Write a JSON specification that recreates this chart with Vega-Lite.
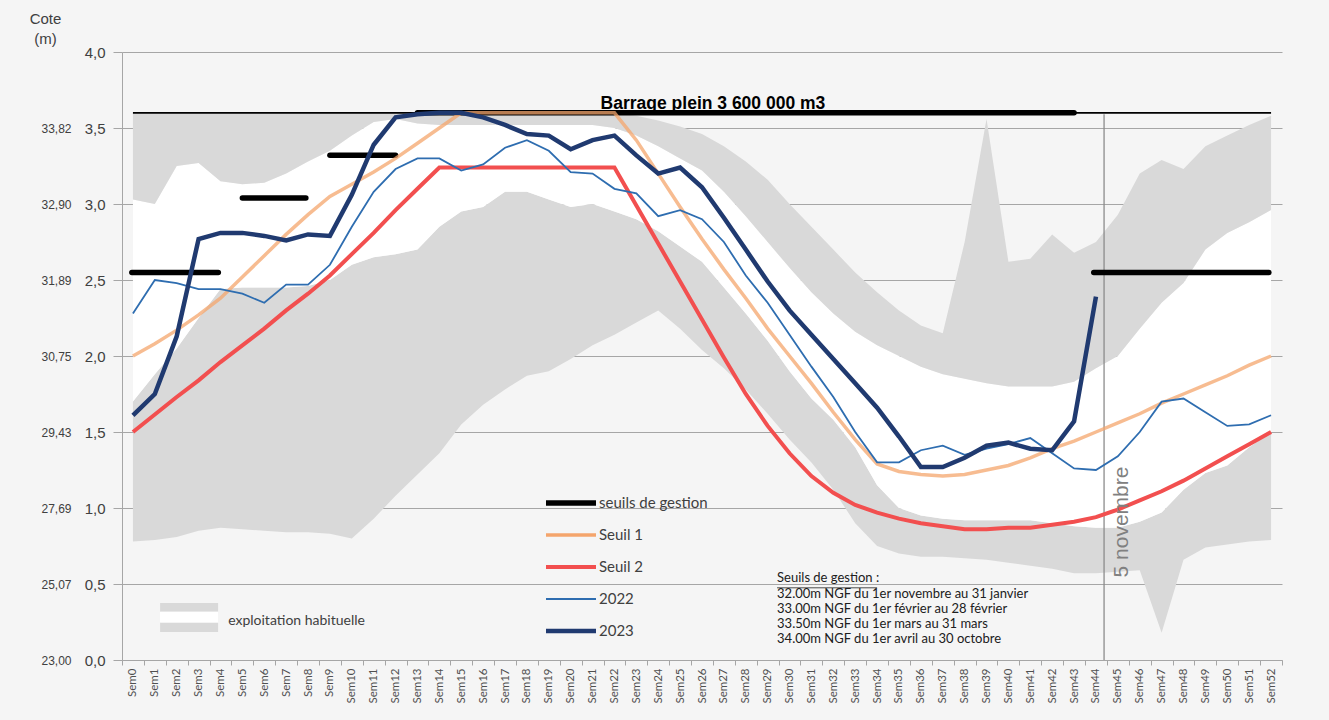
{
  "$schema": "https://vega.github.io/schema/vega-lite/v6.json",
  "width": 1160,
  "height": 608,
  "autosize": {"type": "none"},
  "padding": {"left": 122, "top": 52, "right": 47, "bottom": 60},
  "background": "#f5f5f5",
  "config": {
    "view": {"stroke": null, "fill": "#f5f5f5"},
    "font": "Liberation Sans"
  },
  "datasets": {
    "w": [
      {"sem":0,"b0":0.78,"b1":1.70,"b2":3.03,"b3":3.6,"Seuil 1":2.00,"Seuil 2":1.50,"2022":2.28,"2023":1.61},
      {"sem":1,"b0":0.79,"b1":1.88,"b2":3.00,"b3":3.6,"Seuil 1":2.08,"Seuil 2":1.615,"2022":2.50,"2023":1.75},
      {"sem":2,"b0":0.81,"b1":2.05,"b2":3.25,"b3":3.6,"Seuil 1":2.17,"Seuil 2":1.73,"2022":2.48,"2023":2.13},
      {"sem":3,"b0":0.85,"b1":2.25,"b2":3.27,"b3":3.6,"Seuil 1":2.27,"Seuil 2":1.84,"2022":2.44,"2023":2.77},
      {"sem":4,"b0":0.87,"b1":2.44,"b2":3.15,"b3":3.6,"Seuil 1":2.38,"Seuil 2":1.96,"2022":2.44,"2023":2.81},
      {"sem":5,"b0":0.86,"b1":2.45,"b2":3.13,"b3":3.6,"Seuil 1":2.52,"Seuil 2":2.07,"2022":2.41,"2023":2.81},
      {"sem":6,"b0":0.85,"b1":2.45,"b2":3.14,"b3":3.6,"Seuil 1":2.66,"Seuil 2":2.18,"2022":2.35,"2023":2.79},
      {"sem":7,"b0":0.84,"b1":2.45,"b2":3.20,"b3":3.6,"Seuil 1":2.80,"Seuil 2":2.30,"2022":2.47,"2023":2.76},
      {"sem":8,"b0":0.84,"b1":2.46,"b2":3.28,"b3":3.6,"Seuil 1":2.93,"Seuil 2":2.41,"2022":2.47,"2023":2.80},
      {"sem":9,"b0":0.83,"b1":2.50,"b2":3.35,"b3":3.6,"Seuil 1":3.05,"Seuil 2":2.53,"2022":2.60,"2023":2.79},
      {"sem":10,"b0":0.80,"b1":2.60,"b2":3.45,"b3":3.6,"Seuil 1":3.13,"Seuil 2":2.67,"2022":2.85,"2023":3.06},
      {"sem":11,"b0":0.93,"b1":2.65,"b2":3.54,"b3":3.6,"Seuil 1":3.21,"Seuil 2":2.81,"2022":3.08,"2023":3.39},
      {"sem":12,"b0":1.08,"b1":2.67,"b2":3.56,"b3":3.6,"Seuil 1":3.30,"Seuil 2":2.96,"2022":3.23,"2023":3.57},
      {"sem":13,"b0":1.22,"b1":2.70,"b2":3.53,"b3":3.6,"Seuil 1":3.40,"Seuil 2":3.10,"2022":3.30,"2023":3.59},
      {"sem":14,"b0":1.36,"b1":2.85,"b2":3.52,"b3":3.6,"Seuil 1":3.50,"Seuil 2":3.24,"2022":3.30,"2023":3.60},
      {"sem":15,"b0":1.55,"b1":2.95,"b2":3.52,"b3":3.6,"Seuil 1":3.60,"Seuil 2":3.24,"2022":3.22,"2023":3.60},
      {"sem":16,"b0":1.68,"b1":2.98,"b2":3.52,"b3":3.6,"Seuil 1":3.60,"Seuil 2":3.24,"2022":3.26,"2023":3.57},
      {"sem":17,"b0":1.78,"b1":3.08,"b2":3.52,"b3":3.6,"Seuil 1":3.60,"Seuil 2":3.24,"2022":3.37,"2023":3.52},
      {"sem":18,"b0":1.87,"b1":3.08,"b2":3.52,"b3":3.6,"Seuil 1":3.60,"Seuil 2":3.24,"2022":3.42,"2023":3.46},
      {"sem":19,"b0":1.90,"b1":3.03,"b2":3.52,"b3":3.6,"Seuil 1":3.60,"Seuil 2":3.24,"2022":3.35,"2023":3.45},
      {"sem":20,"b0":1.98,"b1":2.98,"b2":3.52,"b3":3.6,"Seuil 1":3.60,"Seuil 2":3.24,"2022":3.21,"2023":3.36},
      {"sem":21,"b0":2.07,"b1":3.00,"b2":3.52,"b3":3.6,"Seuil 1":3.60,"Seuil 2":3.24,"2022":3.20,"2023":3.42},
      {"sem":22,"b0":2.14,"b1":2.95,"b2":3.50,"b3":3.6,"Seuil 1":3.60,"Seuil 2":3.24,"2022":3.10,"2023":3.45},
      {"sem":23,"b0":2.22,"b1":2.90,"b2":3.45,"b3":3.58,"Seuil 1":3.42,"Seuil 2":2.99,"2022":3.07,"2023":3.32},
      {"sem":24,"b0":2.30,"b1":2.82,"b2":3.38,"b3":3.55,"Seuil 1":3.20,"Seuil 2":2.74,"2022":2.92,"2023":3.20},
      {"sem":25,"b0":2.18,"b1":2.72,"b2":3.30,"b3":3.51,"Seuil 1":2.98,"Seuil 2":2.49,"2022":2.96,"2023":3.24},
      {"sem":26,"b0":2.04,"b1":2.62,"b2":3.22,"b3":3.46,"Seuil 1":2.77,"Seuil 2":2.24,"2022":2.90,"2023":3.11},
      {"sem":27,"b0":1.92,"b1":2.45,"b2":3.08,"b3":3.38,"Seuil 1":2.57,"Seuil 2":1.99,"2022":2.75,"2023":2.91},
      {"sem":28,"b0":1.78,"b1":2.28,"b2":2.92,"b3":3.28,"Seuil 1":2.38,"Seuil 2":1.75,"2022":2.53,"2023":2.70},
      {"sem":29,"b0":1.62,"b1":2.10,"b2":2.75,"b3":3.16,"Seuil 1":2.18,"Seuil 2":1.54,"2022":2.35,"2023":2.49},
      {"sem":30,"b0":1.45,"b1":1.90,"b2":2.58,"b3":3.00,"Seuil 1":2.00,"Seuil 2":1.36,"2022":2.14,"2023":2.30},
      {"sem":31,"b0":1.30,"b1":1.72,"b2":2.42,"b3":2.85,"Seuil 1":1.82,"Seuil 2":1.21,"2022":1.93,"2023":2.14},
      {"sem":32,"b0":1.12,"b1":1.58,"b2":2.28,"b3":2.70,"Seuil 1":1.63,"Seuil 2":1.10,"2022":1.73,"2023":1.98},
      {"sem":33,"b0":0.90,"b1":1.40,"b2":2.16,"b3":2.55,"Seuil 1":1.45,"Seuil 2":1.02,"2022":1.50,"2023":1.82},
      {"sem":34,"b0":0.75,"b1":1.15,"b2":2.07,"b3":2.42,"Seuil 1":1.29,"Seuil 2":0.97,"2022":1.30,"2023":1.66},
      {"sem":35,"b0":0.70,"b1":1.00,"b2":2.00,"b3":2.30,"Seuil 1":1.24,"Seuil 2":0.93,"2022":1.30,"2023":1.47},
      {"sem":36,"b0":0.68,"b1":0.95,"b2":1.93,"b3":2.20,"Seuil 1":1.22,"Seuil 2":0.90,"2022":1.38,"2023":1.27},
      {"sem":37,"b0":0.68,"b1":0.93,"b2":1.88,"b3":2.15,"Seuil 1":1.21,"Seuil 2":0.88,"2022":1.41,"2023":1.27},
      {"sem":38,"b0":0.67,"b1":0.92,"b2":1.85,"b3":2.75,"Seuil 1":1.22,"Seuil 2":0.86,"2022":1.35,"2023":1.33},
      {"sem":39,"b0":0.66,"b1":0.92,"b2":1.82,"b3":3.56,"Seuil 1":1.25,"Seuil 2":0.86,"2022":1.39,"2023":1.41},
      {"sem":40,"b0":0.64,"b1":0.92,"b2":1.80,"b3":2.62,"Seuil 1":1.28,"Seuil 2":0.87,"2022":1.42,"2023":1.43},
      {"sem":41,"b0":0.62,"b1":0.92,"b2":1.80,"b3":2.64,"Seuil 1":1.33,"Seuil 2":0.87,"2022":1.46,"2023":1.39},
      {"sem":42,"b0":0.60,"b1":0.90,"b2":1.80,"b3":2.80,"Seuil 1":1.39,"Seuil 2":0.89,"2022":1.36,"2023":1.38},
      {"sem":43,"b0":0.57,"b1":0.88,"b2":1.83,"b3":2.68,"Seuil 1":1.44,"Seuil 2":0.91,"2022":1.26,"2023":1.57},
      {"sem":44,"b0":0.57,"b1":0.87,"b2":1.92,"b3":2.75,"Seuil 1":1.50,"Seuil 2":0.94,"2022":1.25,"2023":2.39},
      {"sem":45,"b0":0.58,"b1":0.87,"b2":2.00,"b3":2.93,"Seuil 1":1.56,"Seuil 2":0.99,"2022":1.34},
      {"sem":46,"b0":0.59,"b1":0.91,"b2":2.18,"b3":3.20,"Seuil 1":1.62,"Seuil 2":1.05,"2022":1.50},
      {"sem":47,"b0":0.18,"b1":0.97,"b2":2.35,"b3":3.29,"Seuil 1":1.69,"Seuil 2":1.11,"2022":1.70},
      {"sem":48,"b0":0.66,"b1":1.12,"b2":2.48,"b3":3.23,"Seuil 1":1.75,"Seuil 2":1.18,"2022":1.72},
      {"sem":49,"b0":0.74,"b1":1.23,"b2":2.70,"b3":3.38,"Seuil 1":1.81,"Seuil 2":1.26,"2022":1.63},
      {"sem":50,"b0":0.76,"b1":1.28,"b2":2.81,"b3":3.45,"Seuil 1":1.87,"Seuil 2":1.34,"2022":1.54},
      {"sem":51,"b0":0.78,"b1":1.40,"b2":2.88,"b3":3.52,"Seuil 1":1.94,"Seuil 2":1.42,"2022":1.55},
      {"sem":52,"b0":0.79,"b1":1.50,"b2":2.96,"b3":3.58,"Seuil 1":2.00,"Seuil 2":1.50,"2022":1.61}
    ],
    "gestion": [
      {"serie":"seuils de gestion","seg":"a","sem":-0.05,"v":2.55},
      {"serie":"seuils de gestion","seg":"a","sem":3.9,"v":2.55},
      {"serie":"seuils de gestion","seg":"b","sem":5.0,"v":3.04},
      {"serie":"seuils de gestion","seg":"b","sem":7.9,"v":3.04},
      {"serie":"seuils de gestion","seg":"c","sem":9.0,"v":3.32},
      {"serie":"seuils de gestion","seg":"c","sem":12.0,"v":3.32},
      {"serie":"seuils de gestion","seg":"d","sem":13.0,"v":3.6},
      {"serie":"seuils de gestion","seg":"d","sem":43.0,"v":3.6},
      {"serie":"seuils de gestion","seg":"e","sem":43.9,"v":2.55},
      {"serie":"seuils de gestion","seg":"e","sem":51.9,"v":2.55}
    ]
  },
  "resolve": {"axis": {"x": "independent", "y": "independent"}},
  "layer": [
    {
      "data": {"name": "w"},
      "mark": {"type": "area", "color": "#d9d9d9"},
      "encoding": {
        "x": {"field": "sem", "type": "quantitative",
          "scale": {"domain": [-0.5, 52.5], "nice": false, "zero": false},
          "axis": {"orient": "bottom", "title": null, "values": [0,1,2,3,4,5,6,7,8,9,10,11,12,13,14,15,16,17,18,19,20,21,22,23,24,25,26,27,28,29,30,31,32,33,34,35,36,37,38,39,40,41,42,43,44,45,46,47,48,49,50,51,52],
            "labelExpr": "'Sem' + datum.value", "labelAngle": 270, "labelFont": "Lato", "labelFontSize": 11.5, "labelColor": "#505050",
            "ticks": false, "labelPadding": 8, "grid": false, "domainColor": "#a6a6a6", "labelOverlap": false, "labelBound": false}},
        "y": {"field": "b0", "type": "quantitative",
          "scale": {"domain": [0, 4], "nice": false, "zero": true},
          "axis": {"orient": "left", "values": [0,0.5,1,1.5,2,2.5,3,3.5,4],
            "labelExpr": "replace(format(datum.value, '.1f'), '.', ',')",
            "labelFont": "Liberation Sans", "labelFontSize": 15, "labelColor": "#404040",
            "tickSize": 9, "tickColor": "#a6a6a6", "labelPadding": 8, "domainColor": "#a6a6a6",
            "grid": true, "gridColor": "#a6a6a6", "gridWidth": 1,
            "title": ["Cote", "(m)"], "titleAngle": 0, "titleX": -77, "titleY": -41, "titleAlign": "center", "titleBaseline": "top",
            "titleFont": "Liberation Sans", "titleFontSize": 15, "titleFontWeight": "normal", "titleColor": "#404040", "titleLineHeight": 20}},
        "y2": {"field": "b1"}
      }
    },
    {
      "data": {"name": "w"},
      "mark": {"type": "area", "color": "#ffffff"},
      "encoding": {
        "x": {"field": "sem", "type": "quantitative",
          "axis": {"orient": "bottom", "title": null, "values": [-0.5,0.5,1.5,2.5,3.5,4.5,5.5,6.5,7.5,8.5,9.5,10.5,11.5,12.5,13.5,14.5,15.5,16.5,17.5,18.5,19.5,20.5,21.5,22.5,23.5,24.5,25.5,26.5,27.5,28.5,29.5,30.5,31.5,32.5,33.5,34.5,35.5,36.5,37.5,38.5,39.5,40.5,41.5,42.5,43.5,44.5,45.5,46.5,47.5,48.5,49.5,50.5,51.5,52.5],
            "labels": false, "ticks": true, "tickSize": 5, "tickColor": "#a6a6a6", "domain": false, "grid": false}},
        "y": {"field": "b1", "type": "quantitative",
          "axis": {"orient": "left", "offset": 51, "values": [0,0.5,1,1.5,2,2.5,3,3.5],
            "labelExpr": "['23,00','25,07','27,69','29,43','30,75','31,89','32,90','33,82'][round(datum.value*2)]",
            "labelFont": "Liberation Sans", "labelFontSize": 12, "labelColor": "#404040",
            "ticks": false, "tickSize": 0, "labelPadding": 0, "domain": false, "grid": false, "title": null}},
        "y2": {"field": "b2"}
      }
    },
    {
      "data": {"name": "w"},
      "mark": {"type": "area", "color": "#d9d9d9"},
      "encoding": {
        "x": {"field": "sem", "type": "quantitative", "axis": null},
        "y": {"field": "b2", "type": "quantitative", "axis": null},
        "y2": {"field": "b3"}
      }
    },
    {
      "data": {"values": [{"part": "haut"}]},
      "mark": {"type": "rect", "color": "#d9d9d9"},
      "encoding": {
        "x": {"datum": 1.24, "type": "quantitative", "axis": null},
        "x2": {"datum": 3.89},
        "y": {"datum": 0.375, "type": "quantitative", "axis": null},
        "y2": {"datum": 0.318}
      }
    },
    {
      "data": {"values": [{"part": "milieu"}]},
      "mark": {"type": "rect", "color": "#ffffff"},
      "encoding": {
        "x": {"datum": 1.24, "type": "quantitative", "axis": null},
        "x2": {"datum": 3.89},
        "y": {"datum": 0.318, "type": "quantitative", "axis": null},
        "y2": {"datum": 0.245}
      }
    },
    {
      "data": {"values": [{"part": "bas"}]},
      "mark": {"type": "rect", "color": "#d9d9d9"},
      "encoding": {
        "x": {"datum": 1.24, "type": "quantitative", "axis": null},
        "x2": {"datum": 3.89},
        "y": {"datum": 0.245, "type": "quantitative", "axis": null},
        "y2": {"datum": 0.185}
      }
    },
    {
      "data": {"values": [{"t": "exploitation habituelle"}]},
      "mark": {"type": "text", "align": "left", "baseline": "middle", "font": "Lato", "fontSize": 14, "color": "#404040"},
      "encoding": {
        "x": {"datum": 4.35, "type": "quantitative", "axis": null},
        "y": {"datum": 0.257, "type": "quantitative", "axis": null},
        "text": {"field": "t"}
      }
    },
    {
      "data": {"values": [{"t": "5 novembre"}]},
      "mark": {"type": "rule", "color": "#8c8c8c", "strokeWidth": 1.3},
      "encoding": {
        "x": {"datum": 44.37, "type": "quantitative", "axis": null},
        "y": {"datum": 0, "type": "quantitative", "axis": null},
        "y2": {"datum": 3.59}
      }
    },
    {
      "data": {"values": [{"t": "Barrage plein 3 600 000 m3"}]},
      "mark": {"type": "rule", "color": "#000000", "strokeWidth": 1.8},
      "encoding": {
        "x": {"datum": 0, "type": "quantitative", "axis": null},
        "x2": {"datum": 52},
        "y": {"datum": 3.6, "type": "quantitative", "axis": null}
      }
    },
    {
      "data": {"name": "gestion"},
      "mark": {"type": "line", "strokeCap": "round"},
      "encoding": {
        "x": {"field": "sem", "type": "quantitative", "axis": null},
        "y": {"field": "v", "type": "quantitative", "axis": null},
        "detail": {"field": "seg"},
        "color": {"field": "serie", "type": "nominal",
          "scale": {"domain": ["seuils de gestion", "Seuil 1", "Seuil 2", "2022", "2023"], "range": ["#000000", "#f4a56c", "#f24f4f", "#2e6db0", "#203a70"]},
          "legend": {"orient": "none", "legendX": 421, "legendY": 439, "title": null, "symbolType": "stroke", "symbolSize": 2500,
            "labelFont": "Lato", "labelFontSize": 15, "labelColor": "#404040", "labelOffset": 0, "clipHeight": 24, "rowPadding": 8, "padding": 0}},
        "strokeWidth": {"field": "serie", "type": "nominal",
          "scale": {"type": "ordinal", "domain": ["seuils de gestion", "Seuil 1", "Seuil 2", "2022", "2023"], "range": [5.5, 3.5, 4, 1.8, 4.5]}}
      }
    },
    {
      "data": {"name": "w"},
      "transform": [{"fold": ["Seuil 2"], "as": ["serie", "v"]}],
      "mark": {"type": "line"},
      "encoding": {
        "x": {"field": "sem", "type": "quantitative", "axis": null},
        "y": {"field": "v", "type": "quantitative", "axis": null},
        "color": {"field": "serie", "type": "nominal",
          "scale": {"domain": ["seuils de gestion", "Seuil 1", "Seuil 2", "2022", "2023"], "range": ["#000000", "#f4a56c", "#f24f4f", "#2e6db0", "#203a70"]}},
        "strokeWidth": {"field": "serie", "type": "nominal",
          "scale": {"type": "ordinal", "domain": ["seuils de gestion", "Seuil 1", "Seuil 2", "2022", "2023"], "range": [5.5, 3.5, 4, 1.8, 4.5]}}
      }
    },
    {
      "data": {"name": "w"},
      "transform": [{"fold": ["Seuil 1"], "as": ["serie", "v"]}],
      "mark": {"type": "line", "strokeOpacity": 0.75},
      "encoding": {
        "x": {"field": "sem", "type": "quantitative", "axis": null},
        "y": {"field": "v", "type": "quantitative", "axis": null},
        "color": {"field": "serie", "type": "nominal",
          "scale": {"domain": ["seuils de gestion", "Seuil 1", "Seuil 2", "2022", "2023"], "range": ["#000000", "#f4a56c", "#f24f4f", "#2e6db0", "#203a70"]}},
        "strokeWidth": {"field": "serie", "type": "nominal",
          "scale": {"type": "ordinal", "domain": ["seuils de gestion", "Seuil 1", "Seuil 2", "2022", "2023"], "range": [5.5, 3.5, 4, 1.8, 4.5]}}
      }
    },
    {
      "data": {"name": "w"},
      "transform": [{"fold": ["2022"], "as": ["serie", "v"]}],
      "mark": {"type": "line"},
      "encoding": {
        "x": {"field": "sem", "type": "quantitative", "axis": null},
        "y": {"field": "v", "type": "quantitative", "axis": null},
        "color": {"field": "serie", "type": "nominal",
          "scale": {"domain": ["seuils de gestion", "Seuil 1", "Seuil 2", "2022", "2023"], "range": ["#000000", "#f4a56c", "#f24f4f", "#2e6db0", "#203a70"]}},
        "strokeWidth": {"field": "serie", "type": "nominal",
          "scale": {"type": "ordinal", "domain": ["seuils de gestion", "Seuil 1", "Seuil 2", "2022", "2023"], "range": [5.5, 3.5, 4, 1.8, 4.5]}}
      }
    },
    {
      "data": {"name": "w"},
      "transform": [{"fold": ["2023"], "as": ["serie", "v"]}],
      "mark": {"type": "line"},
      "encoding": {
        "x": {"field": "sem", "type": "quantitative", "axis": null},
        "y": {"field": "v", "type": "quantitative", "axis": null},
        "color": {"field": "serie", "type": "nominal",
          "scale": {"domain": ["seuils de gestion", "Seuil 1", "Seuil 2", "2022", "2023"], "range": ["#000000", "#f4a56c", "#f24f4f", "#2e6db0", "#203a70"]}},
        "strokeWidth": {"field": "serie", "type": "nominal",
          "scale": {"type": "ordinal", "domain": ["seuils de gestion", "Seuil 1", "Seuil 2", "2022", "2023"], "range": [5.5, 3.5, 4, 1.8, 4.5]}}
      }
    },
    {
      "data": {"values": [{"t": "Barrage plein 3 600 000 m3"}]},
      "mark": {"type": "text", "align": "center", "baseline": "alphabetic", "font": "Liberation Sans", "fontWeight": "bold", "fontSize": 17.5, "color": "#000000"},
      "encoding": {
        "x": {"datum": 26.5, "type": "quantitative", "axis": null},
        "y": {"datum": 3.625, "type": "quantitative", "axis": null},
        "text": {"field": "t"}
      }
    },
    {
      "data": {"values": [{"t": "5 novembre"}]},
      "mark": {"type": "text", "align": "center", "baseline": "middle", "angle": 270, "font": "Liberation Sans", "fontSize": 21, "color": "#808080"},
      "encoding": {
        "x": {"datum": 45.19, "type": "quantitative", "axis": null},
        "y": {"datum": 0.908, "type": "quantitative", "axis": null},
        "text": {"field": "t"}
      }
    },
    {
      "data": {"values": [{"t": "Seuils de gestion :"}]},
      "mark": {"type": "text", "align": "left", "baseline": "top", "font": "Lato", "fontSize": 13, "lineHeight": 15.3, "color": "#202020"},
      "encoding": {
        "x": {"datum": 29.43, "type": "quantitative", "axis": null},
        "y": {"datum": 0.577, "type": "quantitative", "axis": null},
        "text": {"value": ["Seuils de gestion :", "32.00m NGF du 1er novembre au 31 janvier", "33.00m NGF du 1er février au 28 février", "33.50m NGF du 1er mars au 31 mars", "34.00m NGF du 1er avril au 30 octobre"]}
      }
    },
    {
      "data": {"values": [{"t": "souligné"}]},
      "mark": {"type": "rule", "color": "#202020", "strokeWidth": 0.8},
      "encoding": {
        "x": {"datum": 29.43, "type": "quantitative", "axis": null},
        "x2": {"datum": 34.0},
        "y": {"datum": 0.475, "type": "quantitative", "axis": null}
      }
    }
  ]
}
